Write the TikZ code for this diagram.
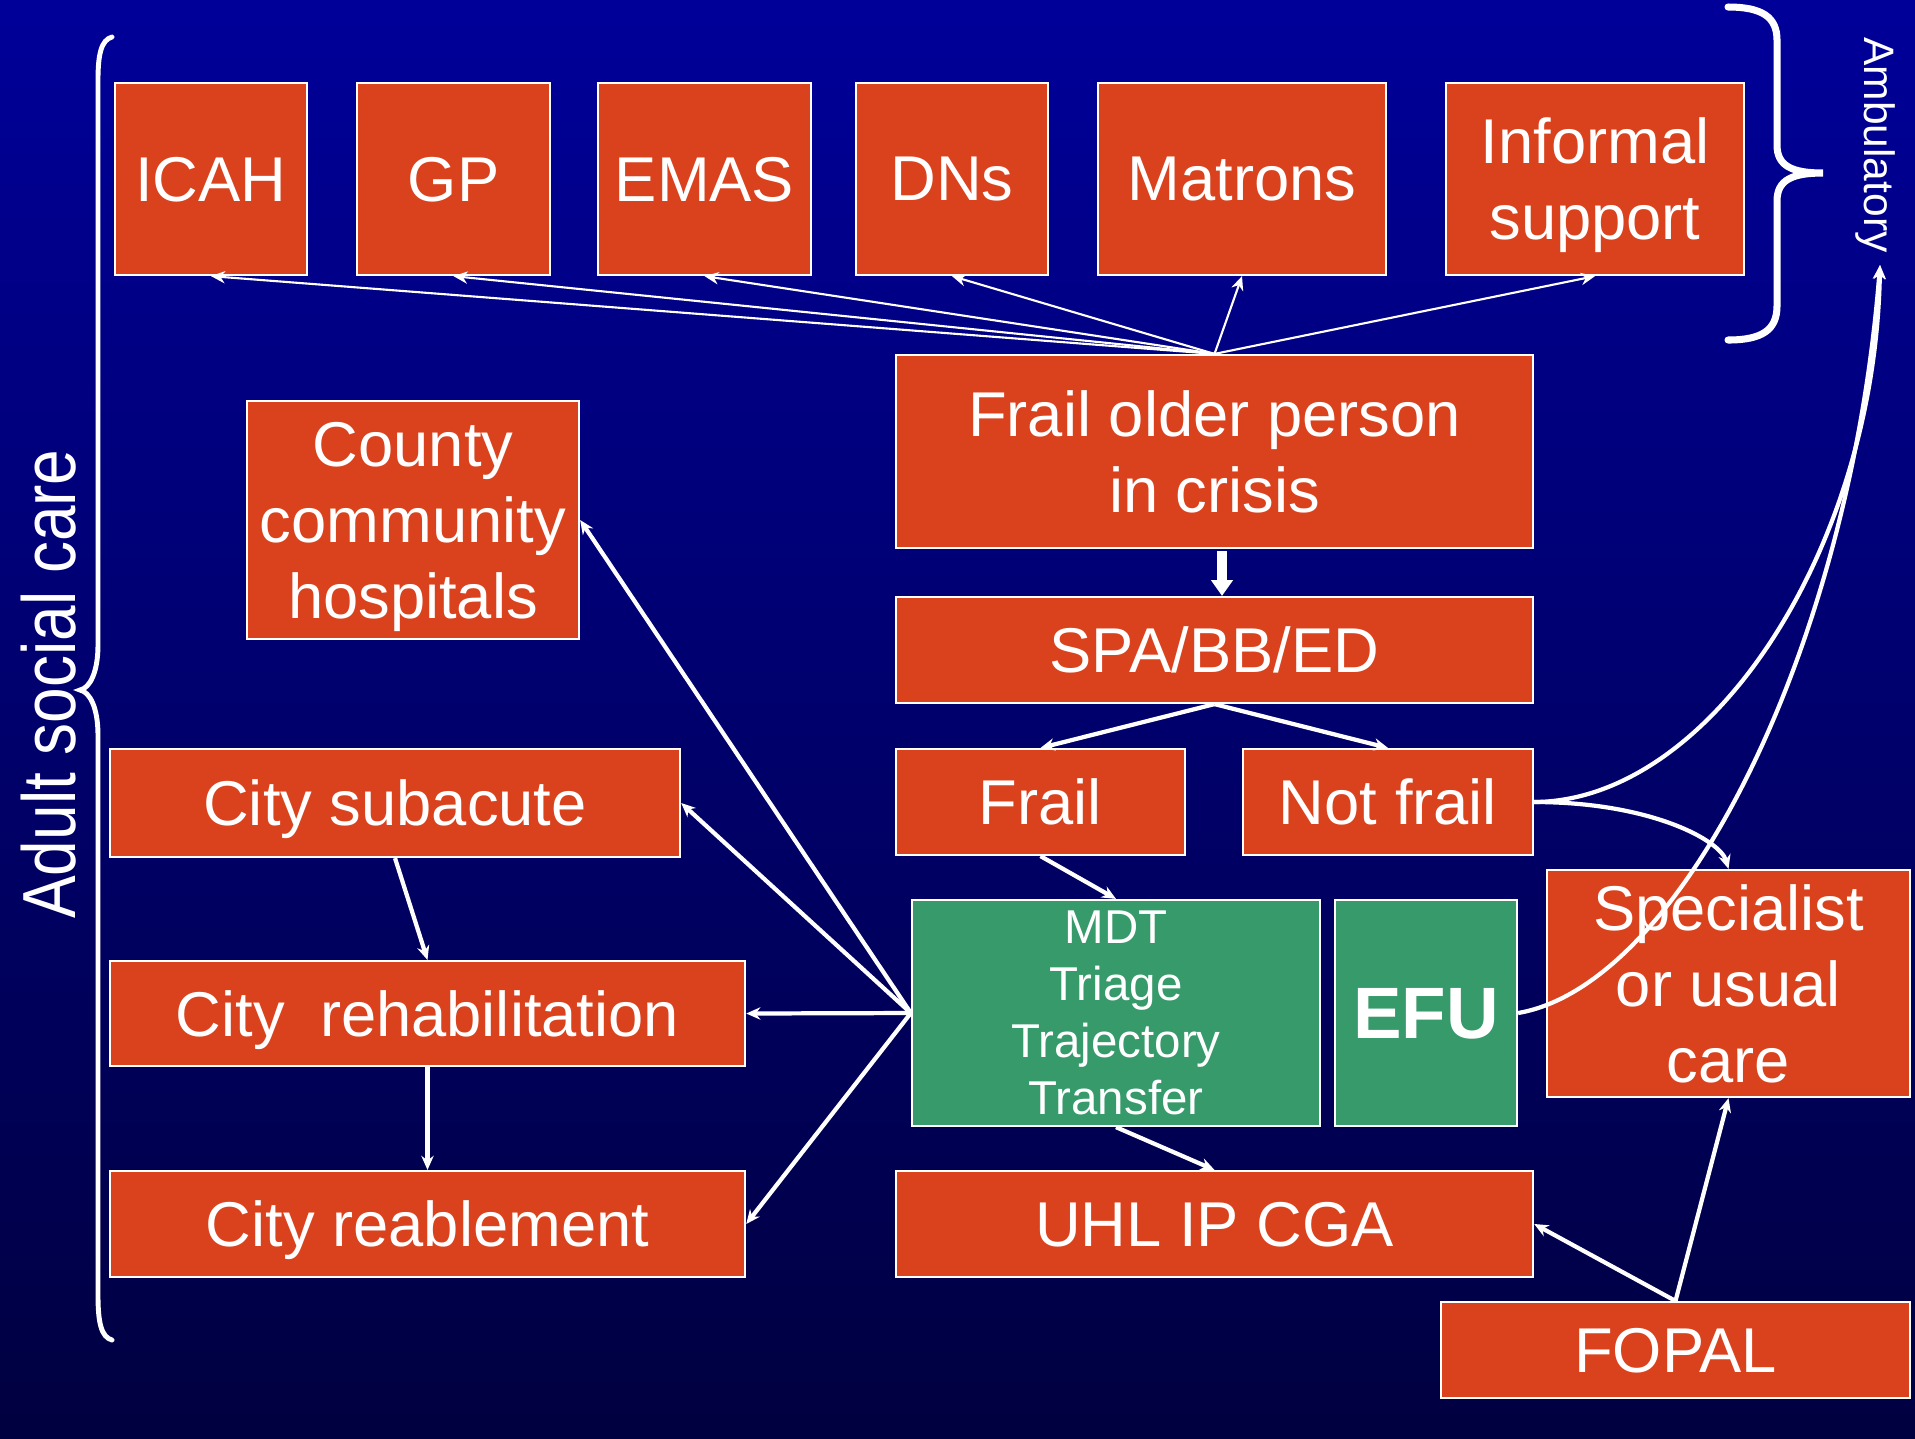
\documentclass[tikz,border=0pt]{standalone}
\usepackage{fontspec}
\setmainfont{Liberation Sans}
\usetikzlibrary{arrows.meta}
\definecolor{bgtop}{RGB}{0,0,153}
\definecolor{bgbot}{RGB}{0,0,64}
\definecolor{boxred}{RGB}{218,66,30}
\definecolor{boxgreen}{RGB}{54,154,106}
\tikzset{
  box/.style={draw=white, line width=0.6pt, fill=boxred, text=white, align=center,
    inner sep=0pt, text depth=0pt, font=\fontsize{18}{21.6}\selectfont},
  mdtbox/.style={box, fill=boxgreen},
  link/.style={white, line width=1.2pt, ->},
  fan/.style={white, line width=0.6pt, ->},
  brace/.style={white, line cap=round},
}

\begin{document}
\begin{tikzpicture}[x=0.01cm,y=-0.01cm,>={Stealth[length=4pt,width=3.5pt]}]
\useasboundingbox (0,0) rectangle (1915,1438);
\shade[top color=bgtop, bottom color=bgbot] (0,0) rectangle (1915,1438);

% top row
\node[box, minimum width=1.92cm, minimum height=1.92cm] (icah) at (211,179) {ICAH};
\node[box, minimum width=1.93cm, minimum height=1.92cm] (gp) at (453.5,179) {GP};
\node[box, minimum width=2.13cm, minimum height=1.92cm] (emas) at (704.5,179) {EMAS};
\node[box, minimum width=1.92cm, minimum height=1.92cm] (dns) at (952,179) {DNs};
\node[box, minimum width=2.88cm, minimum height=1.92cm] (matrons) at (1242,179) {Matrons};
\node[box, minimum width=2.98cm, minimum height=1.92cm] (informal) at (1595,179) {Informal\\support};

% middle column
\node[box, minimum width=6.37cm, minimum height=1.93cm] (crisis) at (1214.5,451.5) {Frail older person\\in crisis};
\node[box, minimum width=6.37cm, minimum height=1.06cm] (spa) at (1214.5,650) {SPA/BB/ED};
\node[box, minimum width=2.89cm, minimum height=1.06cm] (frail) at (1040.5,802) {Frail};
\node[box, minimum width=2.90cm, minimum height=1.06cm] (notfrail) at (1388,802) {Not frail};
\node[mdtbox, minimum width=4.08cm, minimum height=2.26cm, font=\fontsize{13.5}{16.2}\selectfont] (mdt) at (1116,1013) {MDT\\Triage\\Trajectory\\Transfer};
\node[mdtbox, minimum width=1.82cm, minimum height=2.26cm, font=\fontsize{20.7}{24}\selectfont\bfseries] (efu) at (1426,1013) {EFU};
\node[box, minimum width=3.63cm, minimum height=2.27cm] (usual) at (1728.5,983.5) {Specialist\\or usual\\care};
\node[box, minimum width=6.37cm, minimum height=1.06cm] (cga) at (1214.5,1224) {UHL IP CGA};
\node[box, minimum width=4.69cm, minimum height=0.96cm] (fopal) at (1675.5,1350) {FOPAL};

% left column
\node[box, minimum width=3.32cm, minimum height=2.38cm] (county) at (413,520) {County\\community\\hospitals};
\node[box, minimum width=5.70cm, minimum height=1.08cm] (subacute) at (395,803) {City subacute};
\node[box, minimum width=6.35cm, minimum height=1.05cm] (rehab) at (427.5,1013.5) {City\ \ rehabilitation};
\node[box, minimum width=6.35cm, minimum height=1.06cm] (reable) at (427.5,1224) {City reablement};

% braces and side labels
\draw[brace, line width=1.4pt] (112,37) .. controls (101,40) and (98,55) .. (98,80) -- (98,645)
  .. controls (98,672) and (90,688) .. (80,690) .. controls (90,692) and (98,708) .. (98,735)
  -- (98,1295) .. controls (98,1322) and (101,1337) .. (112,1340);
\draw[brace, line width=2pt] (1728,7) .. controls (1762,7) and (1777,17) .. (1777,40) -- (1777,145)
  .. controls (1777,166) and (1792,173) .. (1823,173) .. controls (1792,173) and (1777,180) .. (1777,201)
  -- (1777,306) .. controls (1777,330) and (1762,340) .. (1728,340);
\node[text=white, rotate=90, font=\fontsize{21.4}{24}\selectfont] (asc) at (49,684) {\scalebox{0.85}[1]{Adult social care}};
\node[text=white, rotate=-90, font=\fontsize{12.1}{14}\selectfont] (amb) at (1875,145) {Ambulatory};
\coordinate (ambtip) at (1880,265);

% connectors
\foreach \n in {icah,gp,emas,dns,matrons,informal}
  \draw[fan] (crisis.north) -- (\n.south);
\draw[white, line width=2.8pt, -{Triangle[width=6pt,length=4.5pt]}] ([xshift=0.075cm,yshift=-0.02cm]crisis.south) -- ([xshift=0.075cm]spa.north);
\draw[link] (spa.south) -- (frail.north);
\draw[link] (spa.south) -- (notfrail.north);
\draw[link] (frail.south) -- (mdt.north);
\draw[link] (mdt.south) -- (cga.north);
\foreach \n in {county,subacute,rehab,reable}
  \draw[link] (mdt.west) -- (\n.east);
\draw[link] (subacute.south) -- (rehab.north);
\draw[link] (rehab.south) -- (reable.north);
\draw[link] (fopal.north) -- (cga.east);
\draw[link] (fopal.north) -- (usual.south);

\draw[link] (notfrail.east) .. controls (1710,801) and (1875,550) .. (ambtip);
\draw[link] (efu.east) .. controls (1680,985) and (1850,650) .. (ambtip);
\draw[link] (notfrail.east) .. controls (1650,802) and (1720,840) .. (usual.north);
\end{tikzpicture}
\end{document}
